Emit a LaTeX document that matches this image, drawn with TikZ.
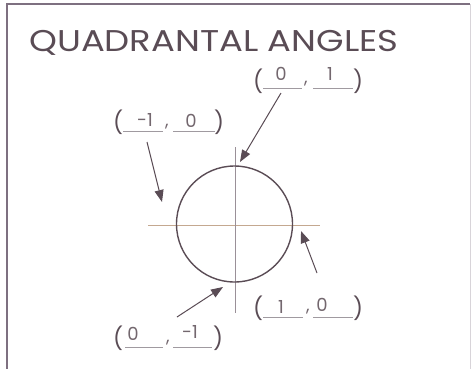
\documentclass[tikz,border=0pt]{standalone}
\usepackage{fontspec}
\setmainfont{Poppins}
\usetikzlibrary{arrows.meta}
\definecolor{ink}{HTML}{5A4C55}
\definecolor{framec}{HTML}{7E7080}
\definecolor{axisv}{HTML}{9A9098}
\definecolor{axish}{HTML}{C4A890}
\definecolor{uline}{HTML}{A09AA0}
\begin{document}
\begin{tikzpicture}[x=1pt,y=-1pt,
 paren/.style={inner sep=0pt, text=ink, font=\fontsize{22}{22}\selectfont},
 num/.style={inner sep=0pt, text=ink!85, font=\fontsize{18}{18}\selectfont},
 ul/.style={draw=uline, line width=0.8pt},
 arr/.style={draw=ink, line width=1pt, -{Triangle[length=12pt,width=9pt]}}]
\useasboundingbox (0,0) rectangle (472,368);
\draw[framec, line width=1.3pt] (7,372) -- (7,4) -- (470,4);
\draw[framec!30, line width=0.6pt] (470,4) -- (470,372);
\node[anchor=base west, inner sep=0pt, text=ink, font=\fontsize{30}{30}\selectfont, xscale=1.18] (title) at (29,51) {QUADRANTAL ANGLES};
% axes and circle
\draw[axish, line width=0.8pt] (148,225) -- (320,225);
\draw[axisv, line width=0.8pt] (235,147) -- (235,313);
\node[circle, draw=ink, line width=1.4pt, minimum size=116pt, inner sep=0pt] (circ) at (234.5,224) {};
% label (0,1)
\node[paren] (a1) at (258,81) {(};
\node[num] (a2) at (281,74) {0};
\node[num] (a3) at (306,84) {,};
\node[num] (a4) at (330,74) {1};
\node[paren] (a5) at (358,81) {)};
\draw[ul] (263,88) -- (302,88);
\draw[ul] (313,88) -- (353,88);
% label (-1,0)
\node[paren] (b1) at (118,122) {(};
\node[num] (b2) at (145,120) {-1};
\node[num] (b3) at (167,127) {,};
\node[num] (b4) at (191,121) {0};
\node[paren] (b5) at (219,122) {)};
\draw[ul] (123,131) -- (163,131);
\draw[ul] (173,131) -- (215,131);
% label (1,0)
\node[paren] (c1) at (258,308) {(};
\node[num] (c2) at (281,307) {1};
\node[num] (c3) at (308,312) {,};
\node[num] (c4) at (322,305) {0};
\node[paren] (c5) at (358,308) {)};
\draw[ul] (263,317) -- (303,317);
\draw[ul] (313,317) -- (353,317);
% label (0,-1)
\node[paren] (d1) at (118,338) {(};
\node[num] (d2) at (133,334) {0};
\node[num] (d3) at (168,343) {,};
\node[num] (d4) at (190,332) {-1};
\node[paren] (d5) at (218,338) {)};
\draw[ul] (125,347) -- (163,347);
\draw[ul] (173,347) -- (212,347);
% arrows
\coordinate (t1) at (281,93);  \coordinate (h1) at (240,162);
\coordinate (t2) at (147,142); \coordinate (h2) at (162,202);
\coordinate (t3) at (317,273); \coordinate (h3) at (301,231);
\coordinate (t4) at (177,317); \coordinate (h4) at (223,287);
\draw[arr] (t1) -- (h1);
\draw[arr] (t2) -- (h2);
\draw[arr] (t3) -- (h3);
\draw[arr] (t4) -- (h4);
\end{tikzpicture}
\end{document}
